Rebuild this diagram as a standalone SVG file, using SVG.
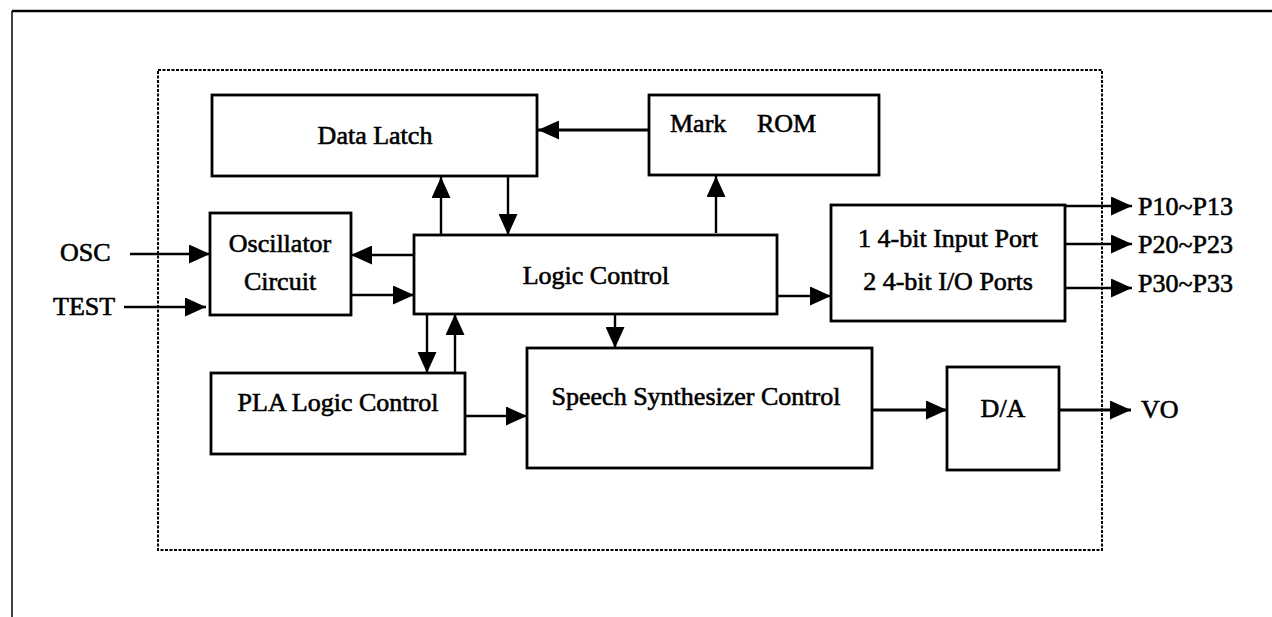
<svg xmlns="http://www.w3.org/2000/svg" width="1272" height="617" viewBox="0 0 1272 617">
<style>
.box{fill:#fff;stroke:#000;stroke-width:2.8}
.t{font-family:"Liberation Serif","Times New Roman",serif;font-size:26px;fill:#000;stroke:#000;stroke-width:0.6}
.c{stroke:#000;stroke-width:2.4;fill:none}
.ct{stroke:#000;stroke-width:3.2;fill:none}
</style>
<defs>
<marker id="ah" markerUnits="userSpaceOnUse" markerWidth="21" markerHeight="19" refX="21" refY="9.5" orient="auto">
<path d="M0,0 L21,9.5 L0,19 z" fill="#000"/>
</marker>
</defs>
<rect width="1272" height="617" fill="#fff"/>
<g id="frame">
<line x1="12" y1="11" x2="1272" y2="11" stroke="#000" stroke-width="2.5"/>
<line x1="12" y1="11" x2="12" y2="617" stroke="#000" stroke-width="1.5"/>
<rect x="158" y="70" width="944" height="480" fill="none" stroke="#000" stroke-width="2" stroke-dasharray="3 1.5"/>
</g>
<g id="data-latch"><rect class="box" x="212" y="95" width="325" height="81"/><text class="t" x="375" y="144" text-anchor="middle">Data Latch</text></g>
<g id="mark-rom"><rect class="box" x="649" y="95" width="230" height="80"/><text class="t" y="132"><tspan x="670">Mark</tspan><tspan x="757">ROM</tspan></text></g>
<g id="oscillator"><rect class="box" x="210" y="213" width="141" height="102"/><text class="t" x="280" y="252" text-anchor="middle">Oscillator</text><text class="t" x="280" y="290" text-anchor="middle">Circuit</text></g>
<g id="logic-control"><rect class="box" x="414" y="235" width="363" height="79"/><text class="t" x="596" y="284" text-anchor="middle">Logic Control</text></g>
<g id="io-ports"><rect class="box" x="831" y="205" width="234" height="116"/><text class="t" x="948" y="247" text-anchor="middle">1 4-bit Input Port</text><text class="t" x="948" y="290" text-anchor="middle">2 4-bit I/O Ports</text></g>
<g id="pla"><rect class="box" x="211" y="373" width="254" height="81"/><text class="t" x="338" y="411" text-anchor="middle">PLA Logic Control</text></g>
<g id="speech"><rect class="box" x="527" y="348" width="345" height="120"/><text class="t" x="696" y="405" text-anchor="middle">Speech Synthesizer Control</text></g>
<g id="da"><rect class="box" x="947" y="367" width="112" height="103"/><text class="t" x="1003" y="417" text-anchor="middle">D/A</text></g>
<g id="labels">
<text class="t" x="60" y="261">OSC</text>
<text class="t" x="53" y="315">TEST</text>
<text class="t" x="1138" y="215">P10~P13</text>
<text class="t" x="1138" y="253">P20~P23</text>
<text class="t" x="1138" y="292">P30~P33</text>
<text class="t" x="1141" y="418">VO</text>
</g>
<g id="connectors">
<line class="ct" x1="649" y1="130" x2="538" y2="130" marker-end="url(#ah)"/>
<line class="c" x1="441" y1="235" x2="441" y2="177" marker-end="url(#ah)"/>
<line class="c" x1="508" y1="177" x2="508" y2="235" marker-end="url(#ah)"/>
<line class="c" x1="716" y1="233" x2="716" y2="176" marker-end="url(#ah)"/>
<line class="c" x1="130" y1="254" x2="210" y2="254" marker-end="url(#ah)"/>
<line class="c" x1="124" y1="307" x2="206" y2="307" marker-end="url(#ah)"/>
<line class="c" x1="414" y1="255" x2="351" y2="255" marker-end="url(#ah)"/>
<line class="c" x1="351" y1="295" x2="414" y2="295" marker-end="url(#ah)"/>
<line class="c" x1="427" y1="314" x2="427" y2="373" marker-end="url(#ah)"/>
<line class="c" x1="455" y1="373" x2="455" y2="314" marker-end="url(#ah)"/>
<line class="c" x1="615" y1="314" x2="615" y2="348" marker-end="url(#ah)"/>
<line class="c" x1="465" y1="416" x2="527" y2="416" marker-end="url(#ah)"/>
<line class="c" x1="777" y1="296" x2="831" y2="296" marker-end="url(#ah)"/>
<line class="c" x1="1065" y1="206" x2="1132" y2="206" marker-end="url(#ah)"/>
<line class="c" x1="1065" y1="244" x2="1132" y2="244" marker-end="url(#ah)"/>
<line class="c" x1="1065" y1="288" x2="1132" y2="288" marker-end="url(#ah)"/>
<line class="ct" x1="872" y1="410" x2="947" y2="410" marker-end="url(#ah)"/>
<line class="ct" x1="1059" y1="410" x2="1131" y2="410" marker-end="url(#ah)"/>
</g>
</svg>
